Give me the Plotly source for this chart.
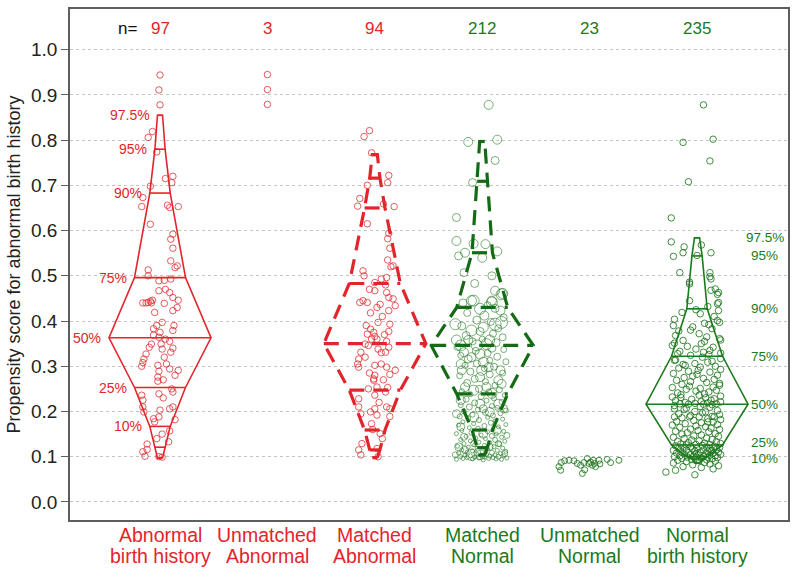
import plotly.graph_objects as go

# ---------------- data ----------------
group_labels = [["Abnormal", "birth history"], ["Unmatched", "Abnormal"], ["Matched", "Abnormal"],
                ["Matched", "Normal"], ["Unmatched", "Normal"], ["Normal", "birth history"]]
group_pos = [1, 2, 3, 4, 5, 6]
n_counts = [97, 3, 94, 212, 23, 235]
y_ticks = [0.0, 0.1, 0.2, 0.3, 0.4, 0.5, 0.6, 0.7, 0.8, 0.9, 1.0]

quant_probs = [0.025, 0.05, 0.1, 0.25, 0.5, 0.75, 0.9, 0.95, 0.975]
quant_names = ["2.5%", "5%", "10%", "25%", "50%", "75%", "90%", "95%", "97.5%"]
q_abnormal = [0.097, 0.121, 0.167, 0.253, 0.363, 0.496, 0.683, 0.780, 0.855]
q_matched_abn = [0.098, 0.115, 0.159, 0.247, 0.350, 0.483, 0.650, 0.716, 0.768]
q_matched_norm = [0.104, 0.120, 0.159, 0.239, 0.346, 0.430, 0.551, 0.709, 0.797]
q_normal = [0.086, 0.095, 0.100, 0.126, 0.216, 0.322, 0.427, 0.544, 0.584]

g1_y = [0.944, 0.911, 0.878, 0.819, 0.806, 0.774, 0.715, 0.720, 0.706, 0.698,
        0.673, 0.653, 0.656, 0.651, 0.653, 0.614, 0.592, 0.581, 0.561, 0.533,
        0.522, 0.518, 0.513, 0.500, 0.467, 0.489, 0.490, 0.493, 0.463, 0.452,
        0.440, 0.440, 0.441, 0.444, 0.446, 0.439, 0.446, 0.430, 0.423, 0.419,
        0.397, 0.390, 0.379, 0.383, 0.375, 0.369, 0.364, 0.349, 0.342, 0.349,
        0.338, 0.355, 0.340, 0.331, 0.327, 0.316, 0.308, 0.300, 0.302, 0.305,
        0.294, 0.291, 0.280, 0.289, 0.276, 0.267, 0.239, 0.250, 0.243, 0.236,
        0.225, 0.210, 0.199, 0.203, 0.206, 0.210, 0.188, 0.184, 0.177, 0.182,
        0.157, 0.150, 0.140, 0.133, 0.128, 0.116, 0.111, 0.101, 0.100, 0.099,
        0.440, 0.360, 0.270, 0.470, 0.390, 0.230, 0.320]
g1_dx = [0, -0.01, 0, -0.07, -0.11, -0.03, 0.05, 0.12, 0.11, -0.09,
         -0.16, -0.17, 0.07, 0.09, 0.17, -0.09, 0.12, 0.10, 0.12, 0.10,
         0.16, 0.14, -0.11, -0.11, -0.01, -0.01, 0.04, 0.10, 0.09, 0.12,
         -0.16, -0.13, -0.11, -0.09, -0.07, 0.04, 0.17, 0.16, 0.12, -0.05,
         0.02, 0.13, 0.12, -0.06, 0, -0.06, -0.01, -0.08, -0.10, 0.01,
         0.02, 0.09, 0.12, 0.10, -0.13, -0.15, -0.16, -0.17, -0.02, 0.06,
         0.09, 0.17, 0.14, -0.01, -0.02, -0.02, -0.01, 0.11, 0.12, -0.17,
         -0.16, -0.16, -0.15, 0, 0.09, 0.12, -0.01, -0.06, -0.05, 0.14,
         0.09, 0.02, -0.03, 0.08, -0.12, -0.12, -0.16, -0.14, -0.01, 0.02,
         -0.08, 0.05, 0.03, 0.05, -0.03, 0.03, 0.04]

g2_y = [0.945, 0.912, 0.879]
g2_dx = [0, 0, 0]

g3_y = [0.821, 0.808, 0.772, 0.722, 0.706, 0.700, 0.671, 0.654, 0.659, 0.653,
        0.615, 0.594, 0.582, 0.561, 0.535, 0.520, 0.522, 0.511, 0.500, 0.485,
        0.493, 0.496, 0.480, 0.467, 0.463, 0.452, 0.449, 0.434, 0.441, 0.445,
        0.441, 0.437, 0.423, 0.418, 0.397, 0.393, 0.377, 0.382, 0.371, 0.375,
        0.366, 0.360, 0.349, 0.346, 0.355, 0.342, 0.338, 0.331, 0.331, 0.316,
        0.305, 0.298, 0.302, 0.305, 0.298, 0.291, 0.282, 0.280, 0.269, 0.272,
        0.254, 0.253, 0.243, 0.236, 0.228, 0.210, 0.195, 0.199, 0.206, 0.192,
        0.210, 0.206, 0.189, 0.173, 0.151, 0.129, 0.115, 0.104, 0.100, 0.118,
        0.390, 0.410, 0.360, 0.470, 0.330, 0.270, 0.250, 0.430, 0.320, 0.220,
        0.160, 0.140, 0.370, 0.285]
g3_dx = [-0.05, -0.10, -0.03, 0.13, 0.12, -0.07, -0.14, -0.16, 0.08, 0.18,
         -0.07, 0.13, 0.12, 0.14, 0.12, 0.15, 0.17, -0.11, -0.10, 0,
         0.06, 0.11, 0.10, 0, 0.11, 0.13, 0.17, 0.19, -0.14, -0.11,
         -0.07, 0.05, 0.13, -0.04, 0.03, 0.14, 0.13, -0.04, -0.07, -0.01,
         0, 0.02, -0.09, -0.06, 0.11, 0.13, 0.03, 0.10, -0.13, -0.15,
         -0.16, -0.15, 0, 0.06, 0.11, 0.19, 0.14, 0, -0.01, -0.01,
         0.02, 0.12, 0.10, 0, -0.15, -0.15, -0.13, -0.04, 0, 0.02,
         0.11, 0.14, 0.14, -0.03, 0.05, -0.12, -0.15, -0.13, 0.03, 0.02,
         -0.08, 0.07, -0.03, -0.05, 0.06, 0.08, -0.06, 0.02, -0.09, 0.04,
         -0.02, 0.07, 0.09, -0.05]

g4_y = [0.878, 0.796, 0.801, 0.755, 0.706, 0.629, 0.577, 0.544, 0.551, 0.571,
        0.540, 0.570, 0.554, 0.507, 0.483, 0.500, 0.467, 0.461, 0.445, 0.445,
        0.427, 0.423, 0.445, 0.441, 0.459, 0.393, 0.379, 0.386, 0.393, 0.397,
        0.358, 0.346, 0.358, 0.346, 0.349, 0.358, 0.331, 0.327, 0.320, 0.305,
        0.309, 0.298, 0.291, 0.291, 0.291, 0.276, 0.269, 0.254, 0.247, 0.254,
        0.240, 0.261, 0.225, 0.217, 0.206, 0.217, 0.195, 0.188, 0.199, 0.206,
        0.166, 0.144, 0.151, 0.158, 0.147, 0.122, 0.115, 0.104, 0.107, 0.122,
        0.129, 0.107, 0.104, 0.129,
        0.440, 0.435, 0.428, 0.418, 0.412, 0.408, 0.402, 0.398, 0.389, 0.384,
        0.377, 0.372, 0.368, 0.364, 0.360, 0.355, 0.352, 0.343, 0.340, 0.337,
        0.334, 0.329, 0.324, 0.321, 0.316, 0.313, 0.310, 0.306, 0.302, 0.299,
        0.295, 0.288, 0.285, 0.282, 0.279, 0.272, 0.266, 0.263, 0.258, 0.250,
        0.248, 0.245, 0.243, 0.238, 0.236, 0.233, 0.229, 0.227, 0.224, 0.221,
        0.219, 0.214, 0.212, 0.210, 0.208, 0.204, 0.202, 0.200, 0.198, 0.196,
        0.193, 0.191,
        0.189, 0.187, 0.185, 0.183, 0.181, 0.179, 0.177, 0.175, 0.173, 0.171,
        0.170, 0.168, 0.166, 0.164, 0.162, 0.160, 0.158, 0.156, 0.155, 0.153,
        0.151, 0.150, 0.148, 0.146, 0.145, 0.143, 0.141, 0.140, 0.138, 0.137,
        0.135, 0.134, 0.132, 0.131, 0.129, 0.128, 0.126, 0.125, 0.123, 0.122,
        0.121, 0.119, 0.118, 0.117, 0.115, 0.114, 0.113, 0.112, 0.111, 0.110,
        0.109, 0.108, 0.107, 0.106, 0.105, 0.104, 0.104, 0.103, 0.102, 0.102,
        0.101, 0.100, 0.100, 0.099, 0.099, 0.098, 0.098, 0.097, 0.097, 0.096,
        0.096, 0.095, 0.095, 0.094, 0.094, 0.093]
g4_dx = [0.06, -0.13, 0.14, 0.12, -0.09, -0.24, -0.24, -0.22, -0.16, -0.08,
         0.00, 0.03, 0.14, -0.17, -0.07, 0.09, 0.12, 0.19, -0.10, 0.09,
         -0.02, 0.17, -0.08, 0.09, 0.18, -0.25, -0.10, 0.01, 0.12, 0.18,
         -0.24, -0.20, -0.13, -0.05, 0.04, 0.07, -0.17, -0.02, -0.10, -0.20,
         0.01, 0.06, -0.19, -0.005, 0.17, -0.02, 0.15, -0.16, -0.08, 0.04,
         0.09, 0.18, -0.20, -0.02, 0.01, 0.15, -0.24, -0.08, 0.07, 0.20,
         -0.20, -0.17, 0.01, 0.14, 0.23, -0.22, -0.16, -0.10, -0.02, 0.07,
         0.15, 0.21, -0.25, -0.08,
         -0.18, 0.05, 0.12, -0.14, 0.02, 0.20, -0.05, 0.08, -0.19, 0.15,
         -0.02, 0.10, -0.15, 0.19, 0.00, -0.09, 0.13, -0.23, 0.09, 0.20,
         -0.06, 0.05, -0.20, 0.14, -0.13, 0.07, 0.22, -0.05, -0.16, 0.11,
         0.02, -0.11, 0.19, 0.07, -0.21, -0.07, 0.03, -0.14, 0.12, -0.03,
         0.16, -0.19, 0.06, -0.11, 0.21, -0.01, 0.11, -0.15, 0.04, 0.18,
         -0.07, -0.20, 0.09, -0.12, 0.14, -0.04, 0.22, -0.17, 0.03, 0.17,
         -0.09, 0.10,
         -0.21, 0.05, -0.13, 0.19, -0.03, 0.12, -0.18, 0.08, -0.08, 0.22,
         -0.22, 0.02, 0.15, -0.12, -0.04, 0.10, -0.19, 0.20, 0.05, -0.10,
         -0.24, 0.13, -0.01, 0.09, -0.15, 0.18, -0.06, 0.03, -0.20, 0.12,
         -0.11, 0.21, -0.03, 0.07, -0.17, 0.16, -0.07, 0.02, -0.23, 0.11,
         -0.13, 0.19, -0.04, 0.05, -0.19, 0.14, -0.09, 0.22, 0.00, -0.14,
         0.09, -0.22, 0.17, -0.05, 0.04, -0.16, 0.12, -0.01, 0.20, -0.11,
         0.07, -0.20, 0.15, -0.07, 0.02, -0.14, 0.10, 0.23, -0.03, -0.18,
         0.06, 0.13, -0.09, -0.24, 0.18, 0.01]
g4_size = [9, 9, 9, 8, 8, 8, 9, 8, 9, 9,
           9, 9, 9, 8, 8, 8, 9, 10, 10, 9,
           11, 9, 11, 11, 11, 11, 11, 10, 12, 12,
           10, 11, 9, 11, 11, 10, 9, 10, 9, 9,
           10, 9, 9, 10, 9, 9, 9, 9, 10, 9,
           10, 9, 9, 9, 8, 9, 8, 10, 9, 8,
           8, 7, 9, 8, 6, 8, 7, 11, 12, 7,
           6, 6, 6, 6,
           8, 7, 8, 7, 9, 7, 8, 7, 8, 7,
           8, 7, 8, 7, 6, 7, 8, 7, 8, 6,
           7, 7, 6, 7, 8, 6, 6, 7, 6, 7,
           6, 7, 6, 7, 6, 7, 6, 7, 6, 7,
           6, 5, 6, 5, 5, 6, 5, 6, 5, 5,
           6, 5, 5, 6, 5, 5, 5, 5, 6, 5,
           5, 5,
           5, 4, 5, 4, 5, 4, 4, 5, 4, 4,
           4, 5, 4, 4, 5, 4, 4, 4, 4, 5,
           4, 4, 4, 5, 4, 4, 4, 4, 4, 5,
           4, 4, 4, 4, 4, 5, 4, 4, 4, 4,
           4, 4, 5, 4, 4, 4, 4, 4, 4, 4,
           5, 4, 4, 4, 4, 4, 4, 4, 4, 4,
           4, 4, 5, 4, 4, 4, 4, 4, 4, 4,
           4, 4, 4, 4, 4, 4]

g5_y = [0.078, 0.087, 0.091, 0.092, 0.091, 0.085, 0.081, 0.087, 0.096, 0.085,
        0.088, 0.081, 0.092, 0.085, 0.078, 0.092, 0.084, 0.094, 0.087, 0.092,
        0.063, 0.071, 0.070]
g5_dx = [-0.286, -0.264, -0.233, -0.192, -0.146, -0.115, -0.084, -0.053, -0.022, -0.006,
         0.009, 0.025, 0.034, 0.046, 0.056, 0.087, 0.096, 0.164, 0.195, 0.273,
         -0.068, -0.046, -0.270]

g6_y = [0.878, 0.795, 0.802, 0.754, 0.708, 0.628, 0.575, 0.564, 0.568, 0.543,
        0.551, 0.551, 0.545,
        0.507, 0.507, 0.498, 0.493, 0.486, 0.482, 0.471, 0.468, 0.463, 0.459,
        0.445, 0.441, 0.438, 0.432,
        0.425, 0.423, 0.419, 0.416, 0.410, 0.404, 0.401, 0.397, 0.395, 0.392,
        0.390, 0.387, 0.383, 0.380, 0.378, 0.372, 0.368, 0.365, 0.361, 0.358,
        0.357, 0.355, 0.351, 0.350, 0.346, 0.344, 0.342, 0.338, 0.335, 0.333,
        0.331, 0.329, 0.328, 0.326, 0.324,
        0.320, 0.317, 0.314, 0.313, 0.311, 0.309, 0.306, 0.304, 0.302, 0.300,
        0.298, 0.296, 0.293, 0.291, 0.289, 0.287, 0.284, 0.282, 0.280, 0.278,
        0.275, 0.273, 0.271, 0.269, 0.266, 0.264, 0.262, 0.260, 0.258, 0.256,
        0.254, 0.253, 0.251, 0.249, 0.247, 0.245, 0.243, 0.241, 0.239, 0.237,
        0.236, 0.234, 0.232, 0.231, 0.230, 0.228, 0.227, 0.225, 0.224, 0.222,
        0.221, 0.220, 0.219, 0.218, 0.217, 0.217, 0.216, 0.216, 0.215,
        0.213, 0.211, 0.209, 0.207, 0.206, 0.204, 0.202, 0.200, 0.199, 0.197,
        0.195, 0.193, 0.191, 0.189, 0.188, 0.188, 0.188, 0.188, 0.186, 0.184,
        0.182, 0.180, 0.178, 0.177, 0.177, 0.175, 0.173, 0.171, 0.170, 0.168,
        0.166, 0.165, 0.163, 0.161, 0.160, 0.158, 0.156, 0.155, 0.153, 0.151,
        0.150, 0.148, 0.146, 0.145, 0.143, 0.141, 0.140, 0.138, 0.137, 0.135,
        0.134, 0.133, 0.131, 0.130, 0.129, 0.128, 0.127, 0.127, 0.126,
        0.125, 0.124, 0.123, 0.122, 0.121, 0.121, 0.120, 0.119, 0.118, 0.118,
        0.117, 0.116, 0.115, 0.115, 0.114, 0.113, 0.112, 0.112, 0.111, 0.110,
        0.110, 0.109, 0.108, 0.108, 0.107, 0.106, 0.106, 0.105, 0.104, 0.104,
        0.103, 0.102, 0.102, 0.101, 0.100, 0.100, 0.099, 0.099, 0.098, 0.097,
        0.097, 0.096, 0.095, 0.094, 0.093, 0.092, 0.091, 0.090, 0.089, 0.087,
        0.086, 0.084, 0.082, 0.080, 0.078, 0.076, 0.073, 0.070, 0.066, 0.060]
g6_dx = [0.06, -0.13, 0.15, 0.12, -0.08, -0.24, -0.24, -0.12, 0.04, -0.22,
         -0.13, 0.13, 0.00,
         -0.16, 0.12, 0.12, 0.13, -0.07, -0.07, 0.17, 0.13, 0.20, 0.19,
         -0.07, 0.20, 0.19, 0.10,
         -0.01, 0.20, -0.14, 0.03, 0.16, -0.21, 0.19, 0.21, 0.07, 0.11,
         -0.22, -0.04, 0.14, -0.06, -0.17, 0.02, -0.20, 0.09, 0.21, 0.22,
         -0.13, 0.07, -0.21, 0.04, -0.23, -0.09, 0.15, -0.01, 0.12, -0.16,
         0.06, 0.22, -0.18, 0.11, -0.06,
         0.05, 0.22, -0.20, -0.21, 0.14, 0.10, -0.02, -0.13, -0.11, 0.17,
         0.03, -0.17, 0.22, 0.01, -0.08, 0.12, -0.22, 0.00, 0.19, -0.04,
         -0.12, 0.06, 0.16, -0.19, -0.06, 0.09, 0.21, -0.14, 0.21, -0.07,
         0.15, -0.23, 0.03, -0.10, 0.18, -0.01, 0.11, -0.18, 0.07, -0.15,
         0.02, 0.22, -0.23, -0.15, 0.08, 0.16, -0.05, 0.13, -0.20, 0.04,
         0.22, -0.11, 0.10, -0.02, 0.18, -0.16, 0.06, -0.08, 0.14,
         -0.21, 0.03, 0.12, -0.10, -0.21, -0.12, 0.19, -0.02, 0.08, 0.05,
         -0.17, 0.21, -0.06, 0.14, -0.21, 0.16, 0.02, -0.07, -0.14, 0.10,
         0.22, -0.03, -0.19, 0.15, 0.10, 0.04, -0.11, 0.19, -0.23, -0.01,
         0.08, -0.16, 0.13, -0.06, 0.21, 0.01, -0.20, 0.11, -0.09, 0.17,
         -0.14, 0.04, -0.03, 0.20, -0.22, 0.09, -0.12, 0.14, -0.05, 0.02,
         -0.18, 0.18, -0.08, 0.07, 0.22, -0.15, -0.01, 0.12, -0.10,
         0.05, -0.20, 0.16, -0.06, 0.09, -0.13, 0.21, 0.00, -0.17, 0.12,
         -0.04, 0.18, -0.10, 0.06, -0.22, 0.14, -0.02, 0.10, -0.15, 0.20,
         0.03, -0.08, 0.15, -0.19, -0.01, 0.08, -0.12, 0.22, 0.01, -0.06,
         0.12, -0.16, 0.17, -0.03, 0.06, -0.21, 0.10, -0.09, 0.19, -0.01,
         0.04, -0.14, 0.14, -0.05, 0.09, -0.18, 0.02, 0.17, -0.10, 0.07,
         -0.22, 0.12, -0.04, 0.20, -0.13, 0.04, 0.15, -0.20, -0.29, -0.02]

# ---------------- style ----------------
RED = "#e3242b"
GREEN = "#1b7a1b"
RED_PT = "rgba(222,45,50,0.78)"
GREEN_PT = "rgba(25,115,25,0.82)"
FONT = "Liberation Sans, Arial, sans-serif"

fig = go.Figure()


def add_points(pos, ys, dxs, color, size):
    fig.add_trace(go.Scatter(
        x=[pos + d for d in dxs], y=ys, mode="markers",
        marker=dict(symbol="circle-open", size=size, color=color, line=dict(width=1)),
        hoverinfo="skip", showlegend=False))


def add_diamond(pos, qv, color, dash, width):
    hw = [0.95 * min(p, 1 - p) for p in quant_probs]
    xs = [pos + h for h in hw] + [pos - h for h in reversed(hw)] + [pos + hw[0]]
    ys = list(qv) + list(reversed(qv)) + [qv[0]]
    fig.add_trace(go.Scatter(x=xs, y=ys, mode="lines",
                             line=dict(color=color, width=width, dash=dash),
                             hoverinfo="skip", showlegend=False))
    lx, ly = [], []
    for h, q in zip(hw, qv):
        lx += [pos - h, pos + h, None]
        ly += [q, q, None]
    fig.add_trace(go.Scatter(x=lx, y=ly, mode="lines",
                             line=dict(color=color, width=width, dash=dash),
                             hoverinfo="skip", showlegend=False))
    return hw


add_points(group_pos[0], g1_y, g1_dx, RED_PT, 6.5)
add_points(group_pos[1], g2_y, g2_dx, RED_PT, 6.5)
add_points(group_pos[2], g3_y, g3_dx, RED_PT, 6.5)
fig.add_trace(go.Scatter(
    x=[group_pos[3] + d for d in g4_dx], y=g4_y, mode="markers",
    marker=dict(symbol="circle-open", size=g4_size, color=GREEN_PT, line=dict(width=1)),
    hoverinfo="skip", showlegend=False))
add_points(group_pos[4], g5_y, g5_dx, GREEN_PT, 6)
add_points(group_pos[5], g6_y, g6_dx, GREEN_PT, 6.5)

hw1 = add_diamond(group_pos[0], q_abnormal, RED, "solid", 1.6)
add_diamond(group_pos[2], q_matched_abn, RED, "15px,9px", 3.2)
add_diamond(group_pos[3], q_matched_norm, "#156b15", "15px,9px", 3.2)
add_diamond(group_pos[5], q_normal, GREEN, "solid", 1.6)

annotations = []
labelled = ["10%", "25%", "50%", "75%", "90%", "95%", "97.5%"]
for name, h, q in zip(quant_names, hw1, q_abnormal):
    if name in labelled:
        annotations.append(dict(x=group_pos[0] - h - 0.055, y=q, text=name, showarrow=False,
                                xanchor="right", yanchor="middle",
                                font=dict(family=FONT, size=14, color=RED)))
label_nudge = {"25%": 2, "10%": -2}
for name, q in zip(quant_names, q_normal):
    if name in labelled:
        annotations.append(dict(x=6.63, y=q, text=name, showarrow=False,
                                xanchor="center", yanchor="middle",
                                yshift=label_nudge.get(name, 0),
                                font=dict(family=FONT, size=13.5, color=GREEN)))

annotations.append(dict(x=0.693, y=1.046, text="n=", showarrow=False, xanchor="center",
                        yanchor="middle", font=dict(family=FONT, size=17, color="#111")))
for i, (p, n) in enumerate(zip(group_pos, n_counts)):
    annotations.append(dict(x=p, y=1.046, text=str(n), showarrow=False, xanchor="center",
                            yanchor="middle",
                            font=dict(family=FONT, size=17, color=RED if i < 3 else GREEN)))

# category labels, two lines each
for i, (p, lab) in enumerate(zip(group_pos, group_labels)):
    c = RED if i < 3 else GREEN
    for txt, yy in zip(lab, [-0.0292, -0.0702]):
        annotations.append(dict(x=p, xref="x", y=yy, yref="paper", text=txt, showarrow=False,
                                xanchor="center", yanchor="middle",
                                font=dict(family=FONT, size=19.5, color=c)))

fig.update_layout(
    width=800, height=577,
    margin=dict(l=70, r=12, t=7, b=57),
    plot_bgcolor="white", paper_bgcolor="white",
    showlegend=False,
    font=dict(family=FONT, size=18, color="#222"),
    annotations=annotations,
    xaxis=dict(range=[0.162, 6.847], tickvals=group_pos, showticklabels=False,
               showgrid=False, zeroline=False, showline=True, mirror=True,
               linecolor="#5e5e5e", linewidth=1.5, ticks=""),
    yaxis=dict(range=[-0.040, 1.090], tickvals=y_ticks, tickformat=".1f",
               showgrid=True, gridcolor="#c4c4c4", griddash="dot", gridwidth=1,
               zeroline=False, showline=True, mirror=True,
               linecolor="#5e5e5e", linewidth=1.5,
               ticks="outside", ticklen=7, tickcolor="#5e5e5e",
               tickfont=dict(family=FONT, size=19, color="#222"),
               title=dict(text="Propensity score for abnormal birth history",
                          font=dict(family=FONT, size=18, color="#222"), standoff=6)),
)

fig.write_html("out.html", config={"displayModeBar": False},
               post_script="document.body.style.margin='0';")
